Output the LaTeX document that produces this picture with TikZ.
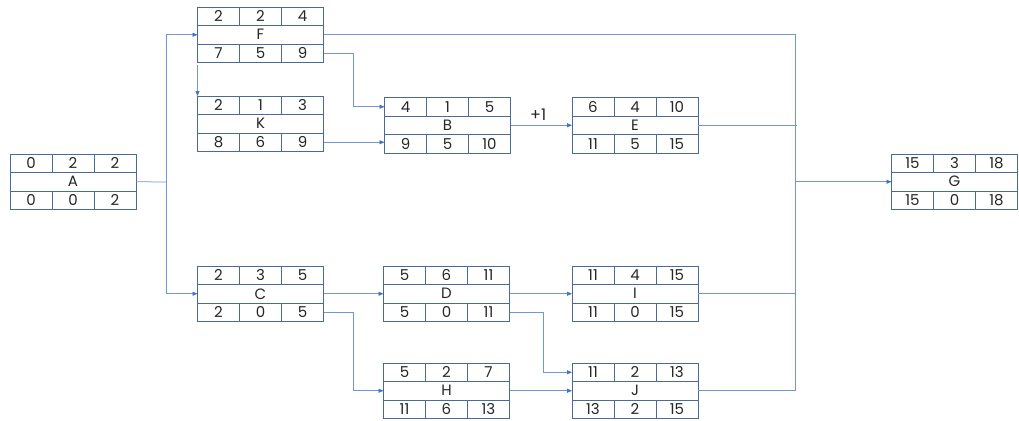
\documentclass[tikz,border=0pt]{standalone}
\usepackage{fontspec}
\setmainfont{Poppins}
\usetikzlibrary{arrows.meta,calc}
\definecolor{boxc}{HTML}{4A6A98}
\definecolor{linec}{HTML}{7196D0}
\definecolor{arrc}{HTML}{4472C4}
\tikzset{
  cell/.style={draw=boxc, line width=0.9pt, minimum width=42pt, minimum height=18.5pt, inner sep=0pt, outer sep=0pt, font=\fontsize{15}{15}\selectfont, text=black!85},
  midcell/.style={cell, minimum width=126pt},
  wire/.style={draw=linec, line width=0.75pt},
  arr/.style={wire, -{Triangle[length=5pt,width=4pt,fill=arrc,color=arrc]}},
  lbl/.style={font=\fontsize{16}{16}\selectfont, text=black!85}
}
\newcommand\actbox[9]{%
  \node[cell, anchor=north west] (#1-t1) at (#2) {#3};
  \node[cell, anchor=west] (#1-t2) at (#1-t1.east) {#4};
  \node[cell, anchor=west] (#1-t3) at (#1-t2.east) {#5};
  \node[midcell, anchor=north west] (#1-m) at (#1-t1.south west) {#6};
  \node[cell, anchor=north west] (#1-b1) at (#1-m.south west) {#7};
  \node[cell, anchor=west] (#1-b2) at (#1-b1.east) {#8};
  \node[cell, anchor=west] (#1-b3) at (#1-b2.east) {#9};
}
\begin{document}
\begin{tikzpicture}[x=1pt,y=-1pt]
\useasboundingbox (0,0) rectangle (1019,420);
\actbox{A}{10,154}{0}{2}{2}{A}{0}{0}{2}
\actbox{F}{197.5,7}{2}{2}{4}{F}{7}{5}{9}
\actbox{K}{197.5,96}{2}{1}{3}{K}{8}{6}{9}
\actbox{B}{384.5,97.5}{4}{1}{5}{B}{9}{5}{10}
\actbox{E}{572,97.5}{6}{4}{10}{E}{11}{5}{15}
\actbox{G}{891.5,154}{15}{3}{18}{G}{15}{0}{18}
\actbox{C}{197.5,266}{2}{3}{5}{C}{2}{0}{5}
\actbox{D}{383.5,266}{5}{6}{11}{D}{5}{0}{11}
\actbox{I}{572,266}{11}{4}{15}{I}{11}{0}{15}
\actbox{H}{383.5,363}{5}{2}{7}{H}{11}{6}{13}
\actbox{J}{572,363}{11}{2}{13}{J}{13}{2}{15}
% A to F and C
\coordinate (sA) at (166,182);
\draw[wire] (A-m.east) -- (sA);
\draw[arr] (sA) |- (F-m.west);
\draw[arr] (sA) |- (C-m.west);
% F to K
\draw[arr] ($(F-b1.south west)+(0,2)$) -- (K-t1.north west);
% F to B
\coordinate (fb) at (353,0);
\draw[arr] (F-b3.east) -- (F-b3.east -| fb) |- (B-t1.west);
% K to B
\draw[arr] (K-b3.east) -- (K-b3.east -| B-b1.west);
% B to E
\draw[arr] (B-m.east) -- node[lbl, above, pos=0.45, yshift=1pt] {+1} (B-m.east -| E-m.west);
% C to D, C to H
\draw[arr] (C-m.east) -- (C-m.east -| D-m.west);
\coordinate (ch) at (353,0);
\draw[arr] (C-b3.east) -- (C-b3.east -| ch) |- (H-m.west);
% D to I, D to J
\draw[arr] (D-m.east) -- (D-m.east -| I-m.west);
\coordinate (dj) at (543,0);
\draw[arr] (D-b3.east) -- (D-b3.east -| dj) |- (J-t1.west);
% H to J
\draw[arr] (H-m.east) -- (H-m.east -| J-m.west);
% right trunk
\coordinate (tr) at (795,0);
\draw[wire] (F-m.east) -- (F-m.east -| tr) -- (J-m.east -| tr) -- (J-m.east);
\draw[wire] (E-m.east) -- ($(E-m.east -| tr)+(2,0)$);
\draw[wire] (I-m.east) -- (I-m.east -| tr);
\draw[arr] (G-m.west -| tr) -- (G-m.west);
\end{tikzpicture}
\end{document}
